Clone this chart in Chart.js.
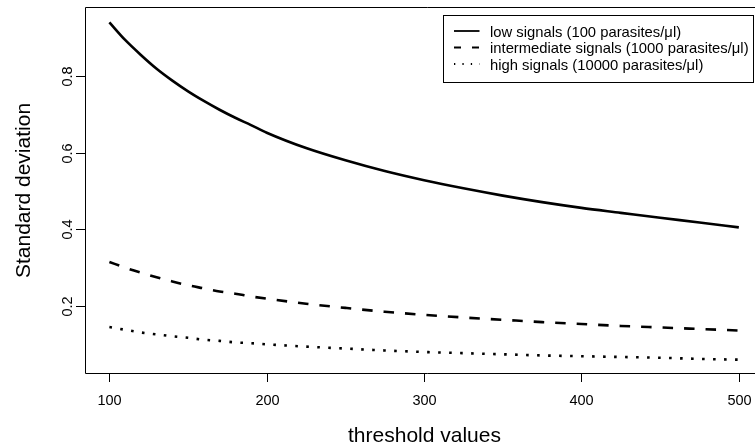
<!DOCTYPE html>
<html>
<head>
<meta charset="utf-8">
<script src="https://cdn.jsdelivr.net/npm/chart.js@4/dist/chart.umd.min.js"></script>
<style>
  html, body { margin: 0; padding: 0; background: #fff; overflow: hidden; }
  #wrap { width: 755px; height: 446px; overflow: hidden; }
  canvas { display: block; }
</style>
</head>
<body>
<div id="wrap"><canvas id="chart" width="770" height="446"></canvas></div>
<script>
// threshold values (x) and standard deviation for each signal level
const thresholds = [100, 110, 120, 130, 140, 150, 160, 170, 180, 190, 200, 225, 250, 275, 300, 325, 350, 375, 400, 425, 450, 475, 500];
const lowSignal = [0.940, 0.894, 0.855, 0.819, 0.788, 0.760, 0.735, 0.712, 0.691, 0.672, 0.652, 0.612, 0.580, 0.552, 0.528, 0.507, 0.488, 0.471, 0.456, 0.443, 0.430, 0.418, 0.405];
const midSignal = [0.315, 0.300, 0.287, 0.275, 0.264, 0.254, 0.246, 0.238, 0.232, 0.225, 0.219, 0.206, 0.195, 0.185, 0.177, 0.170, 0.164, 0.158, 0.153, 0.148, 0.144, 0.140, 0.136];
const highSignal = [0.145, 0.138, 0.131, 0.126, 0.121, 0.117, 0.112, 0.109, 0.105, 0.103, 0.100, 0.094, 0.089, 0.084, 0.080, 0.077, 0.074, 0.071, 0.069, 0.067, 0.065, 0.062, 0.060];

const seriesLabels = [
  'low signals (100 parasites/μl)',
  'intermediate signals (1000 parasites/μl)',
  'high signals (10000 parasites/μl)'
];
const xTicks = [100, 200, 300, 400, 500];
const yTicks = [0.2, 0.4, 0.6, 0.8];

const FONT = '"Liberation Sans", Arial, Helvetica, sans-serif';
const toPoints = ys => thresholds.map((x, i) => ({ x: x, y: ys[i] }));

// legend samples use thinner lines than the plot
const legendDash = [[], [7, 11], [1.3, 7.1]];

// R-style frame, ticks, labels and boxed legend
const basePlot = {
  id: 'basePlot',
  afterDraw(chart) {
    const ctx = chart.ctx;
    const a = chart.chartArea;
    const xs = chart.scales.x, ys = chart.scales.y;
    ctx.save();
    ctx.strokeStyle = '#000';
    ctx.fillStyle = '#000';
    ctx.lineWidth = 1;
    ctx.setLineDash([]);

    // frame (right side falls outside the picture)
    ctx.beginPath();
    ctx.moveTo(a.right + 5, a.top - 0.5);
    ctx.lineTo(a.left + 0.5, a.top - 0.5);
    ctx.lineTo(a.left + 0.5, a.bottom + 0.5);
    ctx.lineTo(a.right + 5, a.bottom + 0.5);
    ctx.stroke();

    // x ticks
    ctx.font = '14.5px ' + FONT;
    ctx.textAlign = 'center';
    ctx.textBaseline = 'alphabetic';
    xTicks.forEach(v => {
      const px = Math.round(xs.getPixelForValue(v)) + 0.5;
      ctx.beginPath();
      ctx.moveTo(px, a.bottom);
      ctx.lineTo(px, a.bottom + 9);
      ctx.stroke();
      ctx.fillText(String(v), px, 405);
    });

    // y ticks, labels rotated
    yTicks.forEach(v => {
      const py = Math.round(ys.getPixelForValue(v)) + 0.5;
      ctx.beginPath();
      ctx.moveTo(a.left, py);
      ctx.lineTo(a.left - 9, py);
      ctx.stroke();
      ctx.save();
      ctx.translate(71.5, py);
      ctx.rotate(-Math.PI / 2);
      ctx.fillText(v.toFixed(1), 0, 0);
      ctx.restore();
    });

    // axis titles
    ctx.font = '21px ' + FONT;
    ctx.fillText('threshold values', (a.left + a.right) / 2, 441.5);
    ctx.save();
    ctx.translate(30, (a.top + a.bottom) / 2);
    ctx.rotate(-Math.PI / 2);
    ctx.fillText('Standard deviation', 0, 0);
    ctx.restore();

    // legend box
    ctx.strokeRect(443.5, 15.5, 310, 67);
    ctx.font = '14.8px ' + FONT;
    ctx.textAlign = 'left';
    const rows = [31, 47.5, 64];
    chart.data.datasets.forEach((ds, i) => {
      const y = rows[i];
      ctx.save();
      ctx.lineWidth = 1.8;
      ctx.lineCap = 'butt';
      ctx.setLineDash(legendDash[i]);
      ctx.beginPath();
      ctx.moveTo(454, y);
      ctx.lineTo(479.5, y);
      ctx.stroke();
      ctx.restore();
      ctx.fillText(ds.label, 490, y + 5.5);
    });
    ctx.restore();
  }
};

new Chart(document.getElementById('chart'), {
  type: 'line',
  data: {
    datasets: [
      { label: seriesLabels[0], data: toPoints(lowSignal), borderDash: [] },
      { label: seriesLabels[1], data: toPoints(midSignal), borderDash: [10.5, 11] },
      { label: seriesLabels[2], data: toPoints(highSignal), borderDash: [2.6, 8.4] }
    ].map(d => Object.assign(d, {
      borderColor: '#000',
      borderWidth: 2.6,
      borderCapStyle: 'butt',
      pointRadius: 0,
      fill: false,
      cubicInterpolationMode: 'monotone'
    }))
  },
  options: {
    responsive: false,
    animation: false,
    devicePixelRatio: 1,
    layout: { padding: { left: 85, top: 8, right: 6, bottom: 73 } },
    scales: {
      x: { type: 'linear', min: 84.5, max: 516, display: false },
      y: { type: 'linear', min: 0.0252, max: 0.9774, display: false }
    },
    plugins: { legend: { display: false }, tooltip: { enabled: false } }
  },
  plugins: [basePlot]
});
</script>
</body>
</html>
